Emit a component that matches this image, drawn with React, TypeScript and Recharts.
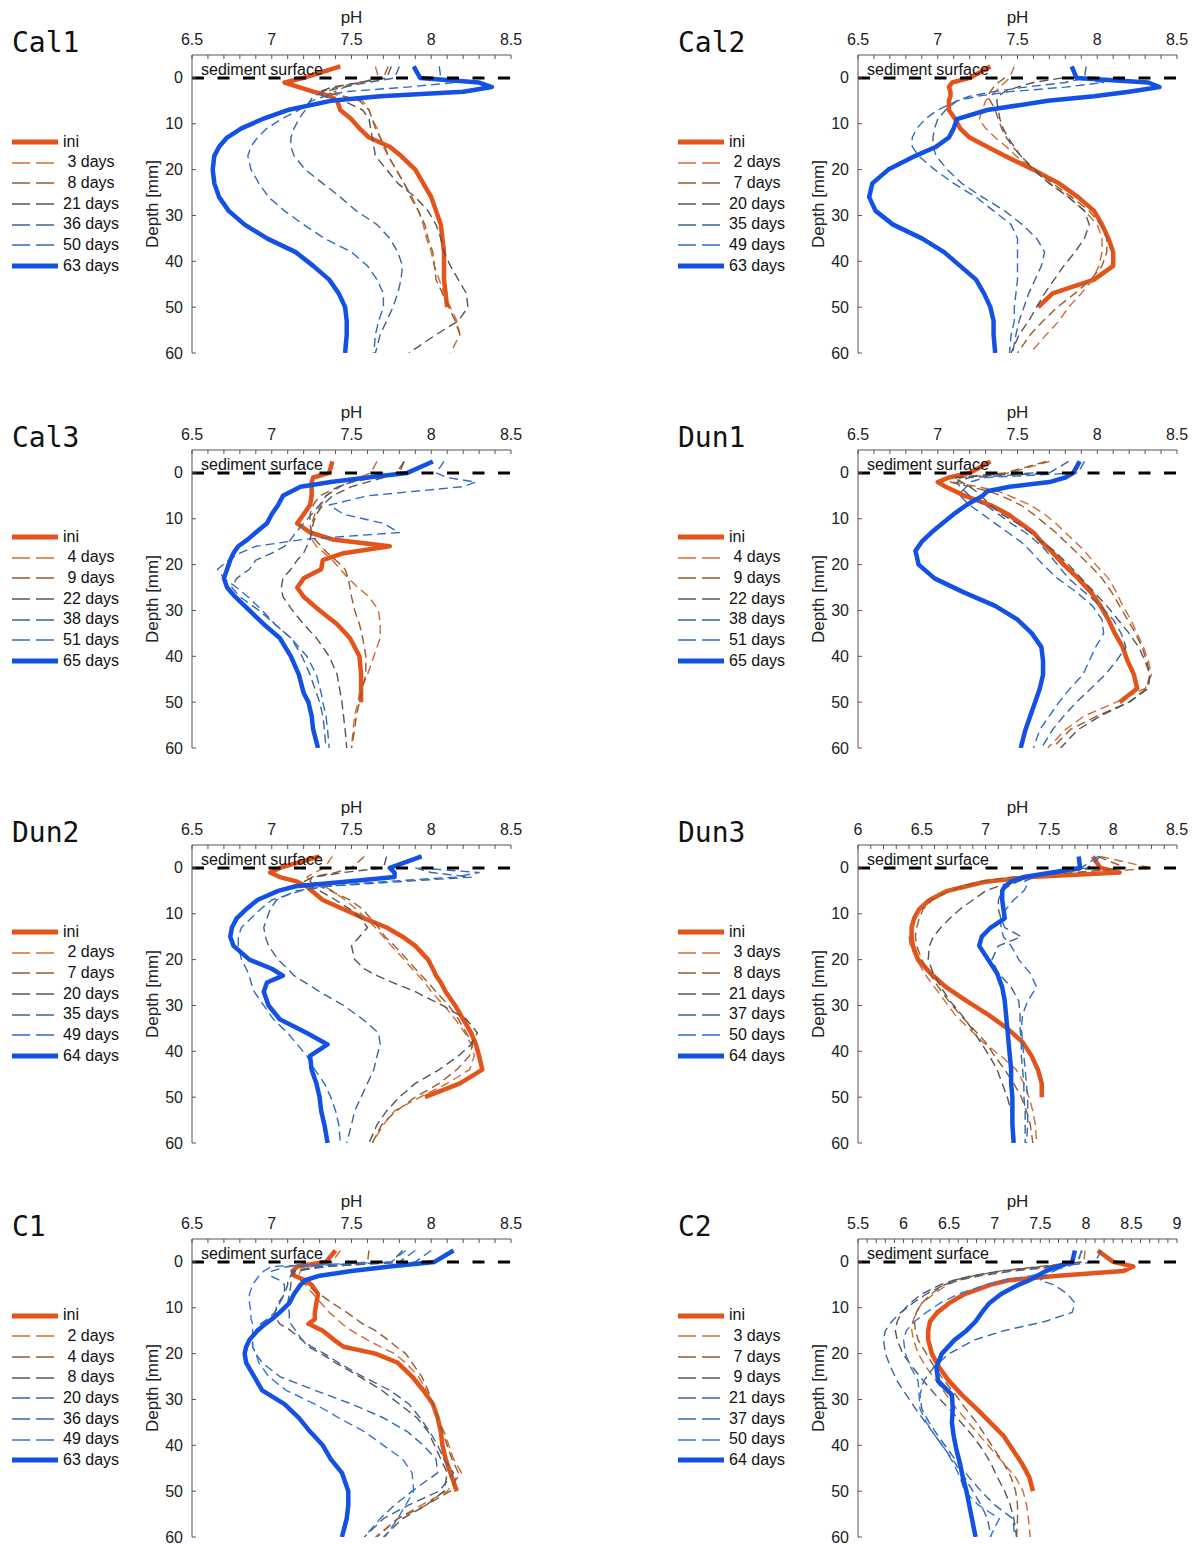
import React from 'react';
import { LineChart, Line, XAxis, YAxis, ReferenceLine, Legend } from 'recharts';

const SANS = '"Liberation Sans", Arial, Helvetica, sans-serif';
const MONO = '"DejaVu Sans Mono", monospace';
const AXIS = '#555';

// depth axis (mm, positive downwards)
const depthDomain = [-5, 60];
const depthTicks = [0, 10, 20, 30, 40, 50, 60];

// pH tick labels
const phTicksStd = [6.5, 7, 7.5, 8, 8.5];
const phTicksDun3 = [6, 6.5, 7, 7.5, 8, 8.5];
const phTicksC2 = [5.5, 6, 6.5, 7, 7.5, 8, 8.5, 9];

// depth grids the profiles were sampled on
const gridStd = [-2.5, 0, 1, 2, 3, 4, 5, 7, 9, 11, 13, 15, 17, 20, 23, 26, 29, 32, 35, 38, 41, 44, 47, 50, 53, 56, 60];
const gridCal3 = [-2.5, 0, 1, 2, 3, 5, 7, 9, 11, 13, 14.5, 16, 17.5, 19, 21, 23, 25, 27, 30, 33, 36, 40, 44, 48, 50, 53, 56, 60];
const gridDun2 = [-2.5, 0, 1, 2, 3, 4, 5, 7, 9, 11, 13, 15, 17, 20, 22, 23.5, 25, 27, 30, 33, 36, 38.5, 41, 44, 47, 50, 53, 56, 60];
const gridC1 = [-2.5, 0, 1, 2, 3, 4, 5, 7, 9, 11, 12.5, 13.5, 15, 17, 18.5, 20, 22, 25, 28, 31, 34, 37, 40, 43, 46, 50, 53, 56, 60];

// ---- Cal1 ----
const cal1Names = ['ini', ' 3 days', ' 8 days', '21 days', '36 days', '50 days', '63 days'];
const cal1Ini = [7.43, 7.2, 7.08, 7.17, 7.26, 7.37, 7.41, 7.43, 7.5, 7.55, 7.61, 7.74, 7.81, 7.9, 7.95, 8.0, 8.03, 8.06, 8.07, 8.08, 8.08, 8.08, 8.09, 8.1, null, null, null];
const cal1D3 = [7.65, 7.67, 7.55, 7.46, 7.39, 7.45, 7.57, 7.61, 7.63, 7.66, 7.68, 7.7, 7.73, 7.78, 7.83, 7.88, 7.92, 7.95, 7.97, 8.0, 8.02, 8.05, 8.08, 8.12, 8.16, 8.18, 8.12];
const cal1D8 = [7.73, 7.7, 7.55, 7.41, 7.31, 7.45, 7.55, 7.61, 7.63, 7.65, 7.68, 7.71, 7.73, 7.78, 7.83, 7.87, 7.92, 7.96, 7.98, 8.01, 8.02, 8.03, 8.07, 8.11, 8.15, 8.18, null];
const cal1D21 = [7.75, 7.72, 7.55, 7.38, 7.3, 7.32, 7.45, 7.57, 7.61, 7.62, 7.63, 7.64, 7.65, 7.72, 7.79, 7.9, 7.98, 8.03, 8.06, 8.08, 8.12, 8.17, 8.22, 8.23, 8.17, 8.03, 7.86];
const cal1D36 = [7.8, 7.77, 7.6, 7.45, 7.33, 7.26, 7.24, 7.21, 7.17, 7.14, 7.12, 7.12, 7.14, 7.21, 7.32, 7.43, 7.53, 7.66, 7.74, 7.79, 7.82, 7.81, 7.79, 7.76, 7.72, 7.68, 7.65];
const cal1D50 = [8.05, 8.06, 8.15, 7.85, 7.46, 7.33, 7.25, 7.17, 7.06, 6.97, 6.91, 6.87, 6.85, 6.87, 6.92, 6.98, 7.08, 7.2, 7.33, 7.5, 7.6, 7.66, 7.7, 7.7, 7.67, 7.65, 7.64];
const cal1D63 = [7.89, 7.93, 8.3, 8.38, 8.2, 7.68, 7.37, 7.1, 6.94, 6.81, 6.72, 6.67, 6.64, 6.63, 6.64, 6.67, 6.73, 6.83, 6.97, 7.15, 7.26, 7.36, 7.42, 7.46, 7.47, 7.47, 7.46];

// ---- Cal2 ----
const cal2Names = ['ini', ' 2 days', ' 7 days', '20 days', '35 days', '49 days', '63 days'];
const cal2Ini = [7.33, 7.2, 7.09, 7.07, 7.08, 7.08, 7.07, 7.07, 7.11, 7.14, 7.2, 7.31, 7.42, 7.6, 7.76, 7.88, 7.98, 8.03, 8.07, 8.1, 8.1, 7.98, 7.72, 7.63, null, null, null];
const cal2D2 = [7.48, 7.45, 7.42, 7.39, 7.36, 7.33, 7.3, 7.28, 7.26, 7.3, 7.36, 7.43, 7.49, 7.6, 7.7, 7.82, 7.92, 8.0, 8.03, 8.03, 8.01, 7.97, 7.9, 7.82, 7.76, 7.68, 7.58];
const cal2D7 = [null, 7.42, 7.38, 7.35, 7.33, 7.31, 7.33, 7.36, 7.38, 7.4, 7.43, 7.47, 7.52, 7.61, 7.72, 7.84, 7.95, 8.02, 8.06, 8.06, 8.03, 7.96, 7.86, 7.75, 7.66, 7.58, 7.5];
const cal2D20 = [null, 7.78, 7.6, 7.5, 7.42, 7.38, 7.37, 7.38, 7.39, 7.41, 7.44, 7.48, 7.52, 7.6, 7.7, 7.82, 7.92, 7.95, 7.92, 7.86, 7.79, 7.73, 7.67, 7.62, 7.57, 7.51, 7.46];
const cal2D35 = [7.93, 7.92, 7.8, 7.55, 7.35, 7.2, 7.12, 7.05, 7.0, 6.98, 6.97, 6.97, 6.99, 7.06, 7.15, 7.28, 7.42, 7.53, 7.62, 7.67, 7.65, 7.61, 7.57, 7.54, 7.51, 7.49, 7.47];
const cal2D49 = [null, 7.9, 8.04, 7.8, 7.45, 7.25, 7.12, 7.0, 6.92, 6.87, 6.84, 6.84, 6.88, 6.98, 7.1, 7.24, 7.35, 7.46, 7.5, 7.5, 7.5, 7.5, 7.49, 7.48, 7.48, 7.46, 7.45];
const cal2D63 = [7.84, 7.87, 8.32, 8.39, 8.2, 7.98, 7.69, 7.31, 7.12, 7.1, 7.07, 6.99, 6.86, 6.69, 6.59, 6.57, 6.61, 6.72, 6.9, 7.04, 7.14, 7.24, 7.29, 7.33, 7.35, 7.35, 7.36];

// ---- Cal3 ----
const cal3Names = ['ini', ' 4 days', ' 9 days', '22 days', '38 days', '51 days', '65 days'];
const cal3Ini = [7.38, 7.36, 7.26, 7.25, 7.25, 7.25, 7.24, 7.2, 7.16, 7.24, 7.38, 7.74, 7.45, 7.32, 7.31, 7.2, 7.16, 7.2, 7.3, 7.41, 7.49, 7.55, 7.56, 7.56, 7.56, null, null, null];
const cal3D4 = [7.66, 7.62, 7.55, 7.48, 7.43, 7.34, 7.31, 7.27, 7.25, 7.24, 7.25, 7.28, 7.33, 7.38, 7.43, 7.48, 7.54, 7.61, 7.67, 7.68, 7.68, 7.64, 7.6, 7.55, 7.54, 7.52, 7.51, 7.5];
const cal3D9 = [7.83, 7.78, 7.65, 7.5, 7.42, 7.3, 7.26, 7.24, 7.24, 7.25, 7.27, 7.31, 7.35, 7.4, 7.46, 7.48, 7.49, 7.5, 7.52, 7.55, 7.57, 7.59, 7.59, 7.56, 7.55, 7.53, 7.52, 7.5];
const cal3D22 = [7.83, 7.8, 7.7, 7.6, 7.5, 7.38, 7.32, 7.28, 7.26, 7.25, 7.24, 7.22, 7.2, 7.16, 7.12, 7.07, 7.06, 7.07, 7.13, 7.2, 7.28, 7.36, 7.41, 7.43, 7.44, 7.45, 7.46, 7.47];
const cal3D38 = [null, 7.7, 7.6, 7.5, 7.42, 7.34, 7.3, 7.25, 7.2, 7.15, 7.12, 7.08, 7.0, 6.9, 6.86, 6.78, 6.75, 6.8, 6.92, 7.02, 7.12, 7.19, 7.24, 7.28, 7.3, 7.32, 7.33, 7.34];
const cal3D51 = [8.08, 8.03, 8.1, 8.28, 8.2, 7.6, 7.36, 7.45, 7.7, 7.8, 7.2, 6.9, 6.8, 6.73, 6.66, 6.7, 6.78, 6.85, 6.94, 7.02, 7.12, 7.22, 7.28, 7.31, 7.32, 7.34, 7.35, 7.36];
const cal3D65 = [8.01, 7.85, 7.6, 7.37, 7.18, 7.07, 7.04, 7.0, 6.97, 6.9, 6.85, 6.79, 6.76, 6.74, 6.72, 6.7, 6.72, 6.77, 6.86, 6.95, 7.05, 7.12, 7.17, 7.2, 7.23, 7.25, 7.26, 7.29];

// ---- Dun1 ----
const dun1Names = ['ini', ' 4 days', ' 9 days', '22 days', '38 days', '51 days', '65 days'];
const dun1Ini = [7.33, 7.2, 7.07, 7.0, 7.05, 7.11, 7.17, 7.33, 7.44, 7.52, 7.6, 7.65, 7.71, 7.79, 7.88, 7.96, 8.02, 8.07, 8.11, 8.16, 8.19, 8.23, 8.25, 8.14, null, null, null];
const dun1D4 = [7.7, 7.45, 7.15, 7.1, 7.25, 7.38, 7.45, 7.58, 7.67, 7.74, 7.8, 7.86, 7.92, 7.99, 8.07, 8.12, 8.16, 8.21, 8.25, 8.29, 8.32, 8.34, 8.3, 8.12, 7.92, 7.8, 7.69];
const dun1D9 = [7.68, 7.42, 7.12, 7.08, 7.2, 7.32, 7.4, 7.52, 7.6, 7.67, 7.74, 7.8, 7.86, 7.95, 8.03, 8.09, 8.14, 8.19, 8.24, 8.28, 8.31, 8.33, 8.31, 8.2, 8.0, 7.83, 7.72];
const dun1D22 = [null, 7.6, 7.1, 7.15, 7.2, 7.24, 7.27, 7.33, 7.4, 7.5, 7.58, 7.65, 7.73, 7.82, 7.9, 7.98, 8.06, 8.13, 8.2, 8.26, 8.3, 8.33, 8.32, 8.2, 8.02, 7.88, 7.77];
const dun1D38 = [7.82, 7.7, 7.2, 7.12, 7.14, 7.17, 7.2, 7.3, 7.38, 7.46, 7.55, 7.62, 7.68, 7.75, 7.82, 7.92, 8.02, 8.1, 8.15, 8.18, 8.12, 8.05, 7.96, 7.87, 7.79, 7.72, 7.65];
const dun1D51 = [7.92, 7.88, 7.3, 7.2, 7.18, 7.15, 7.14, 7.2, 7.28, 7.36, 7.44, 7.52, 7.58, 7.66, 7.75, 7.87, 7.97, 8.03, 8.04, 7.99, 7.95, 7.91, 7.83, 7.76, 7.7, 7.64, 7.6];
const dun1D65 = [7.89, 7.85, 7.8, 7.7, 7.45, 7.31, 7.28, 7.18, 7.1, 7.03, 6.96, 6.9, 6.86, 6.88, 6.98, 7.16, 7.36, 7.5, 7.59, 7.65, 7.66, 7.66, 7.64, 7.61, 7.58, 7.55, 7.52];

// ---- Dun2 ----
const dun2Names = ['ini', ' 2 days', ' 7 days', '20 days', '35 days', '49 days', '64 days'];
const dun2Ini = [7.3, 7.05, 6.99, 7.05, 7.16, 7.22, 7.25, 7.32, 7.45, 7.58, 7.72, 7.82, 7.9, 7.98, 8.01, 8.03, 8.06, 8.09, 8.15, 8.2, 8.25, 8.28, 8.3, 8.32, 8.18, 7.96, null, null, null];
const dun2D2 = [7.38, 7.33, 7.27, 7.22, 7.25, 7.33, 7.38, 7.46, 7.53, 7.59, 7.65, 7.7, 7.75, 7.83, 7.88, 7.92, 7.96, 8.0, 8.08, 8.15, 8.21, 8.25, 8.27, 8.24, 8.1, 7.93, 7.77, 7.7, 7.63];
const dun2D7 = [7.58, 7.5, 7.4, 7.25, 7.24, 7.3, 7.37, 7.49, 7.57, 7.62, 7.67, 7.71, 7.77, 7.85, 7.9, 7.94, 7.98, 8.03, 8.11, 8.17, 8.22, 8.26, 8.24, 8.16, 8.05, 7.9, 7.78, 7.69, 7.63];
const dun2D20 = [7.72, 7.7, 7.45, 7.26, 7.2, 7.24, 7.3, 7.4, 7.49, 7.56, 7.6, 7.55, 7.5, 7.52, 7.58, 7.66, 7.76, 7.9, 8.07, 8.22, 8.29, 8.25, 8.17, 8.05, 7.9, 7.8, 7.72, 7.66, 7.61];
const dun2D35 = [null, 7.9, 8.0, 8.25, 7.8, 7.35, 7.15, 7.03, 6.99, 6.97, 6.95, 6.96, 6.98, 7.04, 7.1, 7.14, 7.21, 7.3, 7.45, 7.57, 7.67, 7.68, 7.66, 7.64, 7.6, 7.56, 7.52, 7.5, 7.47];
const dun2D49 = [null, 7.92, 8.3, 8.15, 7.7, 7.35, 7.18, 7.0, 6.93, 6.87, 6.81, 6.79, 6.79, 6.81, 6.84, 6.86, 6.87, 6.89, 6.95, 7.01, 7.1, 7.16, 7.22, 7.27, 7.33, 7.37, 7.4, 7.42, 7.43];
const dun2D64 = [7.94, 7.74, 7.77, 7.77, 7.46, 7.15, 7.04, 6.91, 6.84, 6.78, 6.75, 6.74, 6.76, 6.86, 7.0, 7.07, 6.97, 6.95, 6.98, 7.05, 7.22, 7.35, 7.24, 7.25, 7.28, 7.3, 7.31, 7.33, 7.35];

// ---- Dun3 ----
const dun3Names = ['ini', ' 3 days', ' 8 days', '21 days', '37 days', '50 days', '64 days'];
const dun3Ini = [7.84, 7.9, 8.05, 7.35, 7.0, 6.85, 6.7, 6.56, 6.48, 6.44, 6.42, 6.42, 6.43, 6.47, 6.57, 6.69, 6.85, 7.02, 7.17, 7.29, 7.36, 7.41, 7.44, 7.44, null, null, null];
const dun3D3 = [7.9, 8.3, 7.9, 7.3, 6.95, 6.8, 6.68, 6.54, 6.49, 6.45, 6.42, 6.4, 6.41, 6.46, 6.52, 6.6, 6.68, 6.76, 6.87, 6.98, 7.12, 7.24, 7.3, 7.34, 7.37, 7.39, 7.4];
const dun3D8 = [7.88, 8.1, 7.7, 7.2, 6.95, 6.82, 6.72, 6.58, 6.51, 6.48, 6.46, 6.45, 6.46, 6.5, 6.56, 6.63, 6.71, 6.8, 6.9, 7.0, 7.07, 7.15, 7.22, 7.28, 7.32, 7.35, 7.37];
const dun3D21 = [null, 7.85, 7.6, 7.35, 7.22, 7.1, 7.0, 6.9, 6.8, 6.72, 6.65, 6.59, 6.56, 6.55, 6.59, 6.65, 6.72, 6.81, 6.89, 6.96, 7.03, 7.09, 7.13, 7.17, 7.2, 7.22, null];
const dun3D37 = [7.9, 7.8, 7.5, 7.35, 7.25, 7.18, 7.13, 7.1, 7.1, 7.12, 7.15, 7.28, 7.1, 7.05, 7.1, 7.2, 7.26, 7.27, 7.27, 7.28, 7.28, 7.29, 7.3, 7.3, 7.31, 7.31, 7.31];
const dun3D50 = [7.88, 7.75, 7.55, 7.38, 7.3, 7.32, 7.3, 7.22, 7.16, 7.12, 7.12, 7.14, 7.2, 7.26, 7.35, 7.4, 7.33, 7.29, 7.28, 7.29, 7.3, 7.31, 7.32, 7.33, 7.33, 7.33, 7.32];
const dun3D64 = [7.73, 7.74, 7.52, 7.3, 7.2, 7.15, 7.13, 7.13, 7.14, 7.15, 7.04, 6.97, 6.95, 7.02, 7.09, 7.13, 7.15, 7.16, 7.17, 7.18, 7.19, 7.2, 7.2, 7.21, 7.21, 7.21, 7.22];

// ---- C1 ----
const c1Names = ['ini', ' 2 days', ' 4 days', ' 8 days', '20 days', '36 days', '49 days', '63 days'];
const c1Ini = [7.4, 7.34, 7.16, 7.13, 7.14, 7.21, 7.25, 7.29, 7.28, 7.27, 7.27, 7.23, 7.32, 7.39, 7.45, 7.65, 7.79, 7.88, 7.95, 8.01, 8.04, 8.06, 8.07, 8.09, 8.12, 8.16, null, null, null];
const c1D2 = [7.43, 7.38, 7.25, 7.18, 7.17, 7.19, 7.21, 7.26, 7.31, 7.36, 7.41, 7.44, 7.5, 7.6, 7.68, 7.77, 7.84, 7.92, 7.97, 8.0, 8.04, 8.08, 8.11, 8.14, 8.19, 8.1, 7.94, 7.79, 7.65];
const c1D4 = [7.61, 7.6, 7.3, 7.13, 7.15, 7.18, 7.22, 7.3, 7.38, 7.47, 7.53, 7.57, 7.65, 7.73, 7.78, 7.84, 7.88, 7.94, 7.98, 8.01, 8.04, 8.07, 8.1, 8.13, 8.17, 8.12, 7.97, 7.79, 7.66];
const c1D8 = [7.82, 7.75, 7.35, 7.15, 7.12, 7.1, 7.1, 7.08, 7.04, 7.02, 7.03, 7.05, 7.12, 7.19, 7.23, 7.31, 7.4, 7.55, 7.69, 7.8, 7.91, 7.98, 8.02, 8.06, 8.1, 8.08, 7.97, 7.82, 7.7];
const c1D20 = [8.0, 7.9, 7.3, 7.13, 7.12, 7.12, 7.12, 7.11, 7.1, 7.11, 7.11, 7.12, 7.15, 7.19, 7.25, 7.33, 7.42, 7.57, 7.74, 7.86, 7.93, 7.99, 8.04, 8.08, 8.14, 8.05, 7.86, 7.7, 7.58];
const c1D36 = [7.9, 7.8, 7.1, 7.0, 6.99, 7.05, 7.08, 7.08, 7.05, 7.02, 6.97, 6.93, 6.9, 6.88, 6.88, 6.9, 6.94, 7.05, 7.27, 7.5, 7.7, 7.85, 7.95, 8.03, 8.04, 7.88, 7.77, 7.68, 7.58];
const c1D49 = [7.84, 7.75, 7.0, 6.95, 6.92, 6.9, 6.88, 6.86, 6.86, 6.87, 6.87, 6.88, 6.88, 6.88, 6.88, 6.9, 6.92, 6.98, 7.09, 7.27, 7.42, 7.58, 7.7, 7.82, 7.88, 7.89, 7.84, 7.79, 7.71];
const c1D63 = [8.14, 8.02, 7.74, 7.5, 7.3, 7.21, 7.18, 7.14, 7.11, 7.05, 7.0, 6.96, 6.91, 6.86, 6.84, 6.83, 6.84, 6.89, 6.94, 7.08, 7.17, 7.24, 7.32, 7.37, 7.44, 7.48, 7.48, 7.47, 7.44];

// ---- C2 ----
const c2Names = ['ini', ' 3 days', ' 7 days', ' 9 days', '21 days', '37 days', '50 days', '64 days'];
const c2Ini = [8.13, 8.3, 8.52, 8.41, 7.7, 7.15, 6.95, 6.67, 6.5, 6.37, 6.29, 6.27, 6.27, 6.31, 6.39, 6.5, 6.64, 6.8, 6.95, 7.1, 7.2, 7.3, 7.38, 7.42, null, null, null];
const c2D3 = [7.99, 7.98, 7.6, 7.1, 6.8, 6.6, 6.48, 6.33, 6.2, 6.14, 6.1, 6.09, 6.11, 6.16, 6.25, 6.36, 6.47, 6.58, 6.71, 6.84, 6.97, 7.1, 7.23, 7.31, 7.35, 7.37, 7.39];
const c2D7 = [7.96, 7.9, 7.5, 7.05, 6.78, 6.55, 6.45, 6.3, 6.2, 6.14, 6.12, 6.13, 6.16, 6.25, 6.34, 6.45, 6.57, 6.68, 6.8, 6.9, 7.0, 7.1, 7.18, 7.23, 7.25, 7.25, 7.24];
const c2D9 = [null, 7.95, 7.55, 7.05, 6.75, 6.55, 6.4, 6.2, 6.07, 5.98, 5.93, 5.91, 5.93, 5.99, 6.1, 6.22, 6.35, 6.5, 6.63, 6.76, 6.87, 6.96, 7.03, 7.11, 7.17, 7.21, 7.24];
const c2D21 = [8.17, 8.1, 7.7, 7.2, 6.85, 6.6, 6.45, 6.25, 6.1, 5.97, 5.87, 5.8, 5.78, 5.8, 5.86, 5.93, 6.03, 6.13, 6.24, 6.35, 6.46, 6.57, 6.67, 6.76, 6.85, 6.92, 6.96];
const c2D37 = [null, 7.85, 7.75, 7.65, 7.55, 7.5, 7.65, 7.8, 7.88, 7.85, 7.55, 7.1, 6.78, 6.5, 6.33, 6.22, 6.18, 6.2, 6.28, 6.38, 6.49, 6.6, 6.72, 6.85, 7.0, 7.2, 7.22];
const c2D50 = [7.95, 7.92, 7.8, 7.6, 7.4, 7.1, 6.9, 6.6, 6.4, 6.25, 6.12, 6.03, 6.0, 6.02, 6.08, 6.16, 6.17, 6.18, 6.25, 6.35, 6.46, 6.55, 6.62, 6.67, 6.82, 7.05, 6.95];
const c2D64 = [7.88, 7.85, 7.69, 7.56, 7.47, 7.38, 7.26, 7.07, 6.94, 6.86, 6.79, 6.69, 6.56, 6.42, 6.36, 6.38, 6.53, 6.54, 6.53, 6.55, 6.58, 6.62, 6.65, 6.69, 6.72, 6.75, 6.79];

// line colours: initial profile, dashed intermediate days, final profile
const INI_COLOR = '#E4531A';
const FINAL_COLOR = '#1251E4';
const mid5 = ['#CF6B30', '#9A5A2C', '#555555', '#3A659A', '#2D6BC8'];
const mid6 = ['#CF6B30', '#9A5A2C', '#555555', '#3A659A', '#2E69B6', '#2F78E0'];

type Profile = (number | null)[];
type Panel = {
  title: string;
  depth: number[];
  names: string[];
  profiles: Profile[];
  domain: [number, number];
  majors: number[];
};

const panels: Panel[] = [
  { title: 'Cal1', depth: gridStd, names: cal1Names, profiles: [cal1Ini, cal1D3, cal1D8, cal1D21, cal1D36, cal1D50, cal1D63], domain: [6.5, 8.5], majors: phTicksStd },
  { title: 'Cal2', depth: gridStd, names: cal2Names, profiles: [cal2Ini, cal2D2, cal2D7, cal2D20, cal2D35, cal2D49, cal2D63], domain: [6.5, 8.5], majors: phTicksStd },
  { title: 'Cal3', depth: gridCal3, names: cal3Names, profiles: [cal3Ini, cal3D4, cal3D9, cal3D22, cal3D38, cal3D51, cal3D65], domain: [6.5, 8.5], majors: phTicksStd },
  { title: 'Dun1', depth: gridStd, names: dun1Names, profiles: [dun1Ini, dun1D4, dun1D9, dun1D22, dun1D38, dun1D51, dun1D65], domain: [6.5, 8.5], majors: phTicksStd },
  { title: 'Dun2', depth: gridDun2, names: dun2Names, profiles: [dun2Ini, dun2D2, dun2D7, dun2D20, dun2D35, dun2D49, dun2D64], domain: [6.5, 8.5], majors: phTicksStd },
  { title: 'Dun3', depth: gridStd, names: dun3Names, profiles: [dun3Ini, dun3D3, dun3D8, dun3D21, dun3D37, dun3D50, dun3D64], domain: [6, 8.5], majors: phTicksDun3 },
  { title: 'C1', depth: gridC1, names: c1Names, profiles: [c1Ini, c1D2, c1D4, c1D8, c1D20, c1D36, c1D49, c1D63], domain: [6.5, 8.5], majors: phTicksStd },
  { title: 'C2', depth: gridStd, names: c2Names, profiles: [c2Ini, c2D3, c2D7, c2D9, c2D21, c2D37, c2D50, c2D64], domain: [5.5, 9], majors: phTicksC2 },
];

const rowTops = [0, 395, 790, 1184];
const colLefts = [0, 666];

type SeriesStyle = { name: string; color: string; thick: boolean };

function seriesStyles(names: string[]): SeriesStyle[] {
  const mids = names.length === 8 ? mid6 : mid5;
  return names.map((name, i) => {
    if (i === 0) return { name, color: INI_COLOR, thick: true };
    if (i === names.length - 1) return { name, color: FINAL_COLOR, thick: true };
    return { name, color: mids[i - 1], thick: false };
  });
}

function toPoints(depth: number[], values: Profile) {
  return depth
    .map((d, i) => ({ d, ph: values[i] }))
    .filter((p) => p.ph !== null && p.ph !== undefined);
}

// every 0.1 pH gets a small inward tick, labelled ones come from `majors`
function minorTicks([lo, hi]: [number, number]) {
  const out: number[] = [];
  for (let k = Math.round(lo * 10); k <= Math.round(hi * 10); k++) out.push(k / 10);
  return out;
}

function PhTick(props: any) {
  const { x, y, payload, majors } = props;
  const v = payload.value;
  const axisY = y + 10;
  const isMajor = majors.some((m: number) => Math.abs(m - v) < 1e-6);
  return (
    <g>
      <line x1={x} x2={x} y1={axisY} y2={axisY + 4} stroke={AXIS} strokeWidth={1} />
      {isMajor && (
        <text x={x} y={y} textAnchor="middle" fontSize={16} fontFamily={SANS} fill="#222">
          {String(v)}
        </text>
      )}
    </g>
  );
}

function DepthTick(props: any) {
  const { x, y, payload } = props;
  const axisX = x + 9;
  return (
    <g>
      <line x1={axisX} x2={axisX + 4} y1={y} y2={y} stroke={AXIS} strokeWidth={1} />
      <text x={x} y={y} dy={5.5} textAnchor="end" fontSize={16} fontFamily={SANS} fill="#222">
        {payload.value}
      </text>
    </g>
  );
}

function PhLabel(props: any) {
  const vb = props.viewBox;
  return (
    <text x={vb.x + vb.width / 2} y={vb.y - 2} textAnchor="middle" fontSize={17} fontFamily={SANS} fill="#222">
      pH
    </text>
  );
}

function DepthLabel(props: any) {
  const vb = props.viewBox;
  const x = vb.x + 16;
  const y = vb.y + vb.height / 2;
  return (
    <text x={x} y={y} transform={`rotate(-90 ${x} ${y})`} textAnchor="middle" fontSize={17} fontFamily={SANS} fill="#222">
      Depth [mm]
    </text>
  );
}

function SurfaceLabel(props: any) {
  const vb = props.viewBox;
  return (
    <text x={vb.x + 9} y={vb.y - 3} fontSize={16} fontFamily={SANS} fill="#111">
      sediment surface
    </text>
  );
}

function ProfileLegend({ items }: { items: SeriesStyle[] }) {
  return (
    <div style={{ fontFamily: SANS, fontSize: 16, color: '#111' }}>
      {items.map((it) => (
        <div key={it.name} style={{ display: 'flex', alignItems: 'center', height: 20.7 }}>
          <svg width={46} height={8} style={{ display: 'block' }}>
            <line
              x1={0}
              x2={it.thick ? 46 : 42}
              y1={4}
              y2={4}
              stroke={it.color}
              strokeWidth={it.thick ? 5 : 1.6}
              strokeDasharray={it.thick ? undefined : '18 6'}
            />
          </svg>
          <span style={{ marginLeft: 5, whiteSpace: 'pre', lineHeight: '20.7px' }}>{it.name}</span>
        </div>
      ))}
    </div>
  );
}

function ProfilePanel({ panel, left, top }: { panel: Panel; left: number; top: number }) {
  const styles = seriesStyles(panel.names);
  const legendTop = 204 - (styles.length * 20.7) / 2;
  // draw initial first, then the dashed days, final profile on top
  const order = [0, ...styles.slice(1, -1).map((_, i) => i + 1), styles.length - 1];

  return (
    <div style={{ position: 'absolute', left, top, width: 560, height: 395 }}>
      <LineChart width={540} height={363} layout="vertical" margin={{ top: 25, right: 29, bottom: 10, left: 142 }}>
        <XAxis
          type="number"
          orientation="top"
          domain={panel.domain}
          ticks={minorTicks(panel.domain)}
          interval={0}
          allowDataOverflow
          height={30}
          tickSize={4}
          tickMargin={6}
          tickLine={false}
          axisLine={{ stroke: AXIS }}
          tick={(p: any) => <PhTick {...p} majors={panel.majors} />}
          label={(p: any) => <PhLabel {...p} />}
        />
        <YAxis
          type="number"
          dataKey="d"
          domain={depthDomain}
          ticks={depthTicks}
          interval={0}
          allowDataOverflow
          width={50}
          tickSize={4}
          tickMargin={5}
          tickLine={false}
          axisLine={{ stroke: AXIS }}
          tick={(p: any) => <DepthTick {...p} />}
          label={(p: any) => <DepthLabel {...p} />}
        />
        <Legend
          layout="horizontal"
          verticalAlign="middle"
          align="center"
          wrapperStyle={{ left: 12, top: legendTop, width: 130, height: 'auto' }}
          content={() => <ProfileLegend items={styles} />}
        />
        {order.map((idx) => {
          const s = styles[idx];
          return (
            <Line
              key={s.name}
              name={s.name}
              data={toPoints(panel.depth, panel.profiles[idx])}
              dataKey="ph"
              type="linear"
              stroke={s.color}
              strokeWidth={s.thick ? 4.5 : 1.4}
              strokeDasharray={s.thick ? undefined : '9 5'}
              strokeLinejoin="round"
              dot={false}
              activeDot={false}
              isAnimationActive={false}
            />
          );
        })}
        <ReferenceLine
          y={0}
          stroke="#000"
          strokeWidth={3}
          strokeDasharray="12 13.5"
          label={(p: any) => <SurfaceLabel {...p} />}
        />
      </LineChart>
      <div
        style={{
          position: 'absolute',
          left: 12,
          top: 29,
          fontFamily: MONO,
          fontSize: 28,
          lineHeight: '28px',
          color: '#111',
          whiteSpace: 'pre',
        }}
      >
        {panel.title}
      </div>
    </div>
  );
}

export default function App() {
  return (
    <div style={{ position: 'absolute', left: 0, top: 0, width: 1198, height: 1544, background: '#fff' }}>
      {panels.map((p, i) => (
        <ProfilePanel key={p.title} panel={p} left={colLefts[i % 2]} top={rowTops[Math.floor(i / 2)]} />
      ))}
    </div>
  );
}
